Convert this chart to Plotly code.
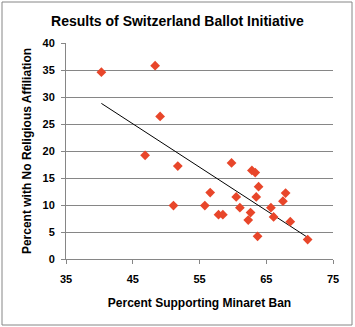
import numpy as np
import plotly.graph_objects as go

# Share of voters supporting the minaret ban vs. share with no religious affiliation, by canton
support_ban = [40.3, 48.35, 49.1, 46.85, 51.75, 56.6, 51.1, 55.8, 57.85, 58.5,
               59.8, 62.85, 63.35, 63.85, 60.5, 63.5, 67.9, 67.5, 61.05, 62.65,
               62.3, 65.7, 66.1, 68.6, 63.7, 71.2]
no_religion = [34.6, 35.8, 26.4, 19.2, 17.2, 12.3, 9.9, 9.9, 8.2, 8.2,
               17.8, 16.4, 16.0, 13.4, 11.5, 11.5, 12.2, 10.7, 9.5, 8.6,
               7.2, 9.5, 7.8, 6.9, 4.2, 3.6]

x_ticks = [35, 45, 55, 65, 75]
y_ticks = [0, 5, 10, 15, 20, 25, 30, 35, 40]

# Least-squares linear trend over the observed range
slope, intercept = np.polyfit(support_ban, no_religion, 1)
trend_x = [min(support_ban), max(support_ban)]
trend_y = [slope * v + intercept for v in trend_x]

font_family = "Liberation Sans, Arial, sans-serif"

W, H = 355, 327
M_L, M_R, M_T, M_B = 66, 22, 43, 68
PLOT_W = W - M_L - M_R
PLOT_H = H - M_T - M_B


def px_to_paper_x(p):
    return (p - M_L) / PLOT_W


def px_to_paper_y(p):
    return (H - M_B - p) / PLOT_H


fig = go.Figure()
fig.add_trace(go.Scatter(
    x=trend_x, y=trend_y, mode="lines",
    line=dict(color="#000000", width=1), hoverinfo="skip",
))
fig.add_trace(go.Scatter(
    x=support_ban, y=no_religion, mode="markers",
    marker=dict(symbol="diamond", size=7.5, color="#E8462A", line=dict(width=0)),
))

axis_common = dict(
    showline=True, linecolor="#868686", linewidth=1,
    ticks="outside", ticklen=4, tickcolor="#868686",
    tickfont=dict(family=font_family, size=11, color="#000000", weight="bold"),
    zeroline=False,
)

fig.update_layout(
    width=W, height=H,
    margin=dict(l=M_L, r=M_R, t=M_T, b=M_B),
    paper_bgcolor="#FFFFFF", plot_bgcolor="#FFFFFF",
    showlegend=False,
    font=dict(family=font_family, color="#000000"),
    title=dict(
        text="<b>Results of Switzerland Ballot Initiative</b>",
        x=0.5, xanchor="center", xref="container",
        y=1 - 21 / H, yanchor="middle",
        font=dict(family=font_family, size=14, color="#000000"),
    ),
    xaxis=dict(
        range=[35, 75], tickvals=x_ticks, showgrid=False,
        ticklabelstandoff=6,
        title=dict(text="<b>Percent Supporting Minaret Ban</b>",
                   font=dict(family=font_family, size=12), standoff=14),
        **axis_common,
    ),
    yaxis=dict(
        range=[0, 40], tickvals=y_ticks,
        showgrid=True, gridcolor="#868686", gridwidth=1,
        ticklabelstandoff=4,
        title=dict(text="<b>Percent with No Religious Affiliation</b>",
                   font=dict(family=font_family, size=12), standoff=8),
        **axis_common,
    ),
    shapes=[dict(
        type="rect", xref="paper", yref="paper",
        x0=px_to_paper_x(2), x1=px_to_paper_x(352),
        y0=px_to_paper_y(325), y1=px_to_paper_y(2),
        line=dict(color="#868686", width=1), fillcolor="rgba(0,0,0,0)", layer="below",
    )],
)

fig.write_html("out.html")
